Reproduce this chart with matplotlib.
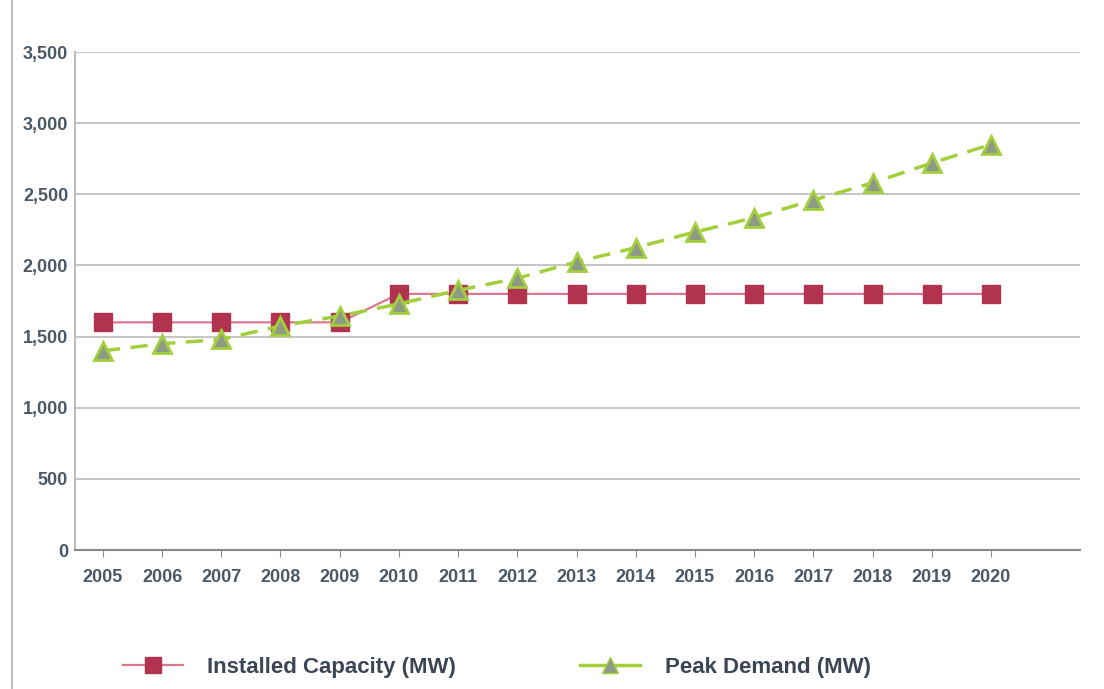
import matplotlib.pyplot as plt
from matplotlib.ticker import FuncFormatter
from matplotlib.lines import Line2D

years = ['2005', '2006', '2007', '2008', '2009', '2010', '2011', '2012',
         '2013', '2014', '2015', '2016', '2017', '2018', '2019', '2020']
installed = [1600, 1600, 1600, 1600, 1600, 1800, 1800, 1800,
             1800, 1800, 1800, 1800, 1800, 1800, 1800, 1800]
peak = [1400, 1450, 1480, 1575, 1645, 1730, 1825, 1910,
        2025, 2125, 2235, 2335, 2460, 2580, 2720, 2850]

red = '#b2334f'
red_line = '#d9788e'
green = '#a2d03c'
text_col = '#4b5866'

plt.rcParams['font.family'] = ['Liberation Sans', 'DejaVu Sans']

fig = plt.figure(figsize=(11.04, 6.89), dpi=100)
ax = fig.add_axes([0.068, 0.2017, 0.91, 0.7228])

x = range(len(years))
ax.plot(x, installed, color=red_line, lw=1.6, marker='s', markersize=13,
        markerfacecolor=red, markeredgecolor=red, zorder=3)
ax.plot(x, peak, color=green, lw=2.5, ls=(0, (5, 3)), marker='^', markersize=13,
        markerfacecolor='#8e9a86', markeredgecolor=green, markeredgewidth=2, zorder=4)

ax.set_xlim(-0.47, 16.5)
ax.set_ylim(0, 3500)
ax.set_yticks(range(0, 3501, 500))
ax.yaxis.set_major_formatter(FuncFormatter(lambda v, p: f'{int(v):,}'))
ax.set_xticks(list(x))
ax.set_xticklabels(years)
ax.grid(axis='y', color='#c6c6c6', lw=1.5)
ax.set_axisbelow(True)

for s in ['top', 'right']:
    ax.spines[s].set_visible(False)
ax.spines['left'].set_color('#bdbdbd')
ax.spines['left'].set_linewidth(1.5)
ax.spines['bottom'].set_color('#8a8a8a')
ax.spines['bottom'].set_linewidth(1.5)
ax.tick_params(axis='y', length=0, pad=5, labelsize=13, labelcolor=text_col)
ax.tick_params(axis='x', length=5, color='#8a8a8a', pad=9, labelsize=13, labelcolor=text_col)
for lab in ax.get_xticklabels() + ax.get_yticklabels():
    lab.set_fontweight('bold')

# scanned page edge on the left
fig.add_artist(Line2D([0.011, 0.011], [0, 1], color='#c0c0c0', lw=1.5))

handles = [
    Line2D([], [], color=red_line, lw=1.6, marker='s', markersize=12,
           markerfacecolor=red, markeredgecolor=red),
    Line2D([], [], color=green, lw=2.5, marker='^', markersize=11,
           markerfacecolor='#8e9a86', markeredgecolor=green),
]
leg = fig.legend(handles, ['Installed Capacity (MW)', 'Peak Demand (MW)'],
                 loc='center left', bbox_to_anchor=(0.111, 0.031), ncol=2, frameon=False,
                 handlelength=2.7, columnspacing=5.6, handletextpad=1.1,
                 borderpad=0, borderaxespad=0,
                 prop={'size': 16, 'weight': 'bold'})
for t in leg.get_texts():
    t.set_color('#3b4654')

fig.savefig('out.png', dpi=100)
